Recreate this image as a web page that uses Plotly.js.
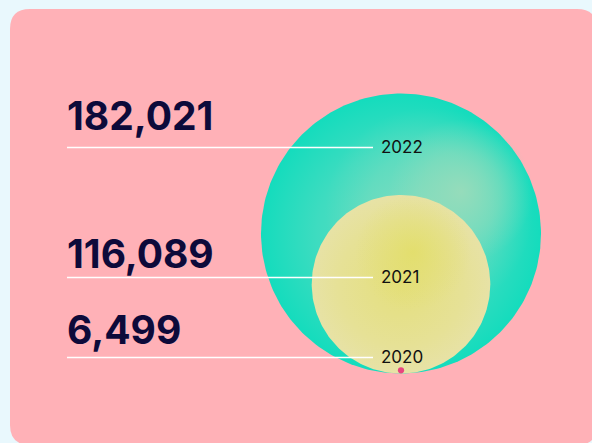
<!DOCTYPE html>
<html><head><meta charset="utf-8">
<script src="https://cdn.plot.ly/plotly-3.0.1.min.js"></script>
<style>html,body{margin:0;padding:0;background:#e9f8fd;}#chart{width:592px;height:443px;}</style>
</head><body><div id="chart"></div>
<script>
// ---- data ----
const years = ['2020', '2021', '2022'];
const values = [6499, 116089, 182021];
const valueLabels = ['6,499', '116,089', '182,021'];

// ---- layout constants (pixel-like data space) ----
const W = 592, H = 443;
const CX = 401, BOTTOM = 373.5, RMAX = 140;
const lineY = [357.5, 277.5, 147.5];
const numY = [329.5, 253, 115];
const LINE_X0 = 67, LINE_X1 = 373, LABEL_X = 379;

const vmax = Math.max(...values);
const radius = v => v / vmax * RMAX;

function circlePts(cx, cy, r, n) {
  const xs = [], ys = [];
  for (let i = 0; i <= n; i++) {
    const a = 2 * Math.PI * i / n;
    xs.push(cx + r * Math.cos(a));
    ys.push(cy + r * Math.sin(a));
  }
  return {xs, ys};
}

function circleTrace(cx, cy, r, colorscale) {
  const p = circlePts(cx, cy, r, 240);
  return {
    type: 'scatter', mode: 'lines', x: p.xs, y: p.ys,
    fill: 'toself', line: {width: 0, color: 'rgba(0,0,0,0)'},
    fillgradient: {type: 'radial', colorscale: colorscale},
    hoverinfo: 'skip', showlegend: false
  };
}

const traces = [];
// 2022 (teal)
const r22 = radius(values[2]), cy22 = BOTTOM - r22;
traces.push(circleTrace(CX, cy22, r22, [[0, '#6adcc1'], [0.6, '#3edcc0'], [1, '#14dcbd']]));
traces.push(circleTrace(CX + 28, cy22 - 22, 104, [[0, 'rgba(150,220,188,0.6)'], [0.6, 'rgba(140,220,190,0.35)'], [1, 'rgba(120,220,190,0)']]));
traces.push(circleTrace(CX + 60, cy22 - 42, 72, [[0, 'rgba(158,220,186,0.85)'], [0.55, 'rgba(152,220,187,0.45)'], [1, 'rgba(140,220,190,0)']]));
// 2021 (yellow)
const r21 = radius(values[1]), cy21 = BOTTOM - r21;
traces.push(circleTrace(CX, cy21, r21, [[0, '#e4df7c'], [0.7, '#e6e196'], [1, '#e7e2a6']]));
traces.push(circleTrace(CX + 12, cy21 - 32, 58, [[0, 'rgba(226,222,100,0.75)'], [1, 'rgba(226,222,110,0)']]));
// 2020 (dot) – drawn as a marker sized from the same scale
const r20 = radius(values[0]);
traces.push({type: 'scatter', mode: 'markers', x: [CX], y: [BOTTOM - 3.2],
  marker: {size: r20 * 1.25, color: '#e8457f', line: {width: 0}}, hoverinfo: 'skip', showlegend: false});

const R = 20, bx0 = 10, by0 = 9, bx1 = 597, by1 = 445;
const boxPath = `M${bx0 + R},${by0} L${bx1 - R},${by0} Q${bx1},${by0} ${bx1},${by0 + R} L${bx1},${by1 - R} Q${bx1},${by1} ${bx1 - R},${by1} L${bx0 + R},${by1} Q${bx0},${by1} ${bx0},${by1 - R} L${bx0},${by0 + R} Q${bx0},${by0} ${bx0 + R},${by0} Z`;

const shapes = [{type: 'path', xref: 'x', yref: 'y', path: boxPath, fillcolor: '#ffb1b7', line: {width: 0}, layer: 'below'}];
const annotations = [];
years.forEach((yr, i) => {
  shapes.push({type: 'line', xref: 'x', yref: 'y', x0: LINE_X0, x1: LINE_X1, y0: lineY[i], y1: lineY[i],
    line: {color: '#ffffff', width: 1.3}, layer: 'above'});
  annotations.push({x: LABEL_X, y: lineY[i] - 1, xref: 'x', yref: 'y', text: yr, showarrow: false,
    xanchor: 'left', yanchor: 'middle', font: {family: 'Inter, sans-serif', size: 17, color: '#111111'}});
  annotations.push({x: LINE_X0 - 2, y: numY[i], xref: 'x', yref: 'y', text: valueLabels[i], showarrow: false,
    xanchor: 'left', yanchor: 'middle', font: {family: 'Inter, sans-serif', size: 39, weight: 700, color: '#0d0a3a'}});
});

const layout = {
  width: W, height: H, margin: {l: 0, r: 0, t: 0, b: 0, pad: 0},
  paper_bgcolor: '#e9f8fd', plot_bgcolor: 'rgba(0,0,0,0)',
  xaxis: {range: [0, W], visible: false, fixedrange: true},
  yaxis: {range: [H, 0], visible: false, fixedrange: true},
  shapes: shapes, annotations: annotations, showlegend: false
};
Plotly.newPlot('chart', traces, layout, {staticPlot: true, displayModeBar: false});
</script></body></html>
